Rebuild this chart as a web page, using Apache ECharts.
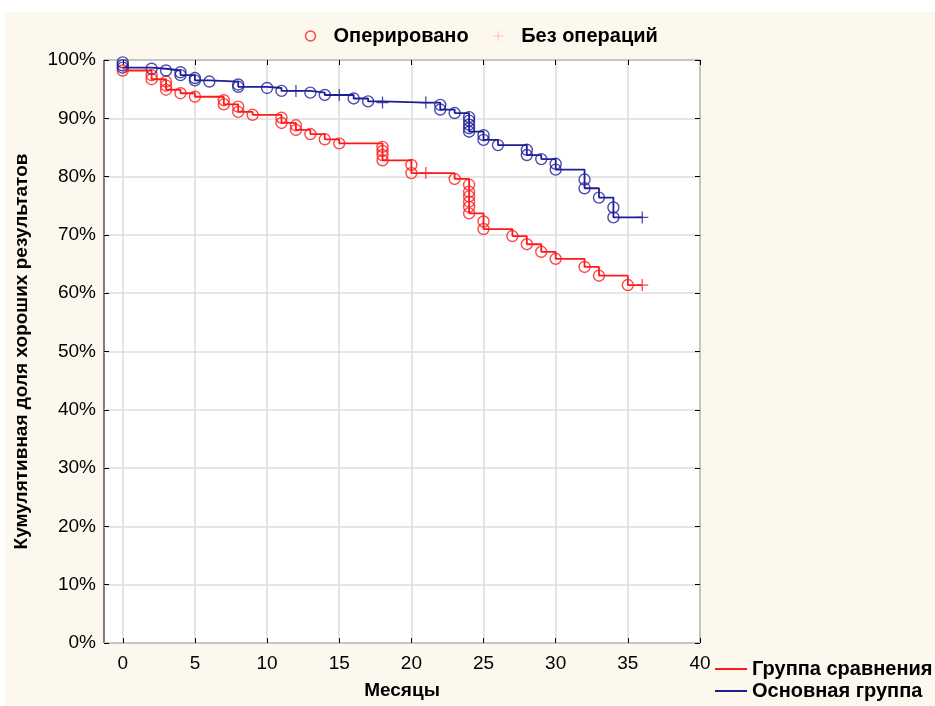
<!DOCTYPE html>
<html>
<head>
<meta charset="utf-8">
<script src="https://cdn.jsdelivr.net/npm/echarts@6/dist/echarts.min.js"></script>
<style>
  html, body { margin: 0; padding: 0; background: #fff; }
  #chart { width: 935px; height: 706px; }
</style>
</head>
<body>
<div id="chart"></div>
<script>
// months where ticks / labels are drawn
const xTicks = [0, 5, 10, 15, 20, 25, 30, 35, 40];

// Группа сравнения (red): events (circles) and censored (crosses)
const redEventT = [0, 2, 2, 3, 3, 3, 4, 5, 7, 7, 8, 8, 9, 11, 11, 12, 12, 13, 14, 15,
  18, 18, 18, 18, 20, 20, 23, 24, 24, 24, 24, 24, 24, 25, 25, 27, 28, 29, 30, 32, 33, 35];
const redEventS = [98.2, 97.4, 96.7, 96.3, 95.6, 94.9, 94.3, 93.7, 93.1, 92.4, 92.0, 91.1, 90.6, 90.1, 89.2, 88.8, 88.0, 87.3, 86.4, 85.7,
  85.1, 84.4, 83.7, 82.8, 82.0, 80.6, 79.6, 78.6, 77.4, 76.6, 75.7, 74.8, 73.7, 72.3, 71.0, 69.8, 68.4, 67.1, 65.9, 64.5, 63.0, 61.4];
const redCensT = [21, 36];
const redCensS = [80.6, 61.4];

// Основная группа (blue)
const blueEventT = [0, 0, 0, 2, 3, 4, 4, 5, 5, 6, 8, 8, 10, 11, 13, 14, 16, 17, 22, 22, 23,
  24, 24, 24, 24, 24, 25, 25, 26, 28, 28, 29, 30, 30, 32, 32, 33, 34, 34];
const blueEventS = [99.6, 99.1, 98.7, 98.5, 98.2, 97.9, 97.4, 96.9, 96.5, 96.3, 95.8, 95.4, 95.2, 94.7, 94.4, 94.0, 93.4, 92.9, 92.3, 91.5, 90.9,
  90.2, 89.6, 88.9, 88.3, 87.7, 87.1, 86.3, 85.4, 84.6, 83.7, 83.0, 82.2, 81.2, 79.5, 78.0, 76.4, 74.7, 73.0];
const blueCensT = [12, 15, 18, 21, 36];
const blueCensS = [94.7, 94.0, 92.7, 92.7, 73.0];

const RED = '#ff1a1a';
const BLUE = '#1e1e98';
const FONT = '"Liberation Sans", Arial, sans-serif';
const PLUS = 'path://M5,0L5,10M0,5L10,5';

function pairs(t, s) {
  return t.map((v, i) => [v, s[i]]);
}

// step curve: lowest value reached at every time point
function stepPoints(evT, evS, cT, cS) {
  const m = {};
  evT.concat(cT).forEach((t, i) => {
    const v = i < evT.length ? evS[i] : cS[i - evT.length];
    m[t] = m[t] == null ? v : Math.min(m[t], v);
  });
  return Object.keys(m).map(Number).sort((a, b) => a - b).map(t => [t, m[t]]);
}

let chart = echarts.init(document.getElementById('chart'));

const tickCommon = {
  inside: true,
  length: 5,
  customValues: xTicks,
  lineStyle: { color: '#000', width: 1 }
};
const legendText = { fontSize: 20, fontWeight: 'bold', color: '#000', fontFamily: FONT };

chart.setOption({
  animation: false,
  backgroundColor: '#fff',
  textStyle: { fontFamily: FONT },
  graphic: [
    {
      type: 'rect',
      left: 5,
      top: 12,
      z: -10,
      shape: { width: 930, height: 694 },
      style: { fill: '#fdf8ee' }
    }
  ],
  grid: {
    left: 104,
    right: 235,
    top: 60,
    bottom: 63,
    show: true,
    backgroundColor: '#fff',
    borderColor: '#000',
    borderWidth: 1
  },
  legend: [
    {
      left: 298,
      top: 21,
      itemWidth: 20,
      itemHeight: 10,
      itemGap: 22,
      textStyle: Object.assign({ padding: [0, 0, 0, 8] }, legendText),
      data: [
        { name: 'Оперировано', icon: 'circle', itemStyle: { color: 'none', borderColor: RED, borderWidth: 1.5 } },
        { name: 'Без операций', icon: PLUS, itemStyle: { color: 'none', borderColor: '#f6b8b8', borderWidth: 1 } }
      ]
    },
    {
      left: 710,
      top: 654,
      itemWidth: 32,
      itemHeight: 2,
      icon: 'rect',
      textStyle: legendText,
      data: ['Группа сравнения']
    },
    {
      left: 710,
      top: 676,
      itemWidth: 32,
      itemHeight: 2,
      icon: 'rect',
      textStyle: legendText,
      data: ['Основная группа']
    }
  ],
  xAxis: [
    {
      type: 'value',
      min: -1.3,
      max: 40,
      position: 'bottom',
      name: 'Месяцы',
      nameLocation: 'middle',
      nameGap: 38,
      nameTextStyle: { fontSize: 19, fontWeight: 'bold', color: '#000' },
      axisLine: { show: false, onZero: false },
      axisTick: tickCommon,
      axisLabel: { customValues: xTicks, fontSize: 19, color: '#000', margin: 11 },
      splitLine: { show: true, lineStyle: { color: '#dcdcdc', width: 1.5 } }
    },
    {
      type: 'value',
      min: -1.3,
      max: 40,
      position: 'top',
      axisLine: { show: false, onZero: false },
      axisTick: tickCommon,
      axisLabel: { show: false },
      splitLine: { show: false }
    }
  ],
  yAxis: [
    {
      type: 'value',
      min: 0,
      max: 100,
      interval: 10,
      position: 'left',
      name: 'Кумулятивная доля хороших результатов',
      nameLocation: 'middle',
      nameGap: 73,
      nameTextStyle: { fontSize: 19, fontWeight: 'bold', color: '#000' },
      axisLine: { show: false, onZero: false },
      axisTick: { inside: true, length: 5, lineStyle: { color: '#000' } },
      axisLabel: { formatter: '{value}%', fontSize: 19, color: '#000', margin: 8 },
      splitLine: { show: true, lineStyle: { color: '#dcdcdc', width: 1.5 } }
    },
    {
      type: 'value',
      min: 0,
      max: 100,
      interval: 10,
      position: 'right',
      axisLine: { show: false, onZero: false },
      axisTick: { inside: true, length: 5, lineStyle: { color: '#000' } },
      axisLabel: { show: false },
      splitLine: { show: false }
    }
  ],
  series: [
    {
      name: 'Группа сравнения',
      type: 'line',
      step: 'end',
      showSymbol: false,
      color: RED,
      lineStyle: { color: RED, width: 1.8 },
      data: stepPoints(redEventT, redEventS, redCensT, redCensS)
    },
    {
      name: 'Основная группа',
      type: 'line',
      step: 'end',
      showSymbol: false,
      color: BLUE,
      lineStyle: { color: BLUE, width: 1.8 },
      data: stepPoints(blueEventT, blueEventS, blueCensT, blueCensS)
    },
    {
      name: 'Оперировано',
      type: 'scatter',
      symbol: 'circle',
      symbolSize: 11,
      itemStyle: { color: 'none', borderColor: RED, borderWidth: 1.4 },
      data: pairs(redEventT, redEventS)
    },
    {
      name: 'Оперировано',
      type: 'scatter',
      symbol: 'circle',
      symbolSize: 11,
      itemStyle: { color: 'none', borderColor: BLUE, borderWidth: 1.4 },
      data: pairs(blueEventT, blueEventS)
    },
    {
      name: 'Без операций',
      type: 'scatter',
      symbol: PLUS,
      symbolSize: 12,
      itemStyle: { color: 'none', borderColor: RED, borderWidth: 1.3 },
      data: pairs(redCensT, redCensS)
    },
    {
      name: 'Без операций',
      type: 'scatter',
      symbol: PLUS,
      symbolSize: 12,
      itemStyle: { color: 'none', borderColor: BLUE, borderWidth: 1.3 },
      data: pairs(blueCensT, blueCensS)
    }
  ]
});
</script>
</body>
</html>
